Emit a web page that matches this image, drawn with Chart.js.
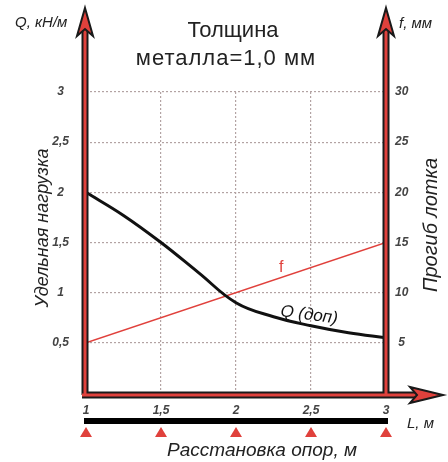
<!DOCTYPE html>
<html>
<head>
<meta charset="utf-8">
<script src="https://cdn.jsdelivr.net/npm/chart.js@4.4.0/dist/chart.umd.min.js"></script>
<style>
  html, body { margin: 0; padding: 0; background: #fff; }
</style>
</head>
<body>
<canvas id="chart" width="448" height="462"></canvas>
<script>
// data
var qLength = [1, 1.25, 1.5, 1.75, 2, 2.25, 2.5, 2.75, 3];
var qLoad = [2.0, 1.77, 1.5, 1.2, 0.9, 0.76, 0.67, 0.6, 0.55];
var fLength = [1, 3];
var fDeflection = [5, 15];

var lengthTicks = [1, 1.5, 2, 2.5, 3];
var loadTicks = [0.5, 1, 1.5, 2, 2.5, 3];
var deflectionTicks = [5, 10, 15, 20, 25, 30];

var RED = '#e0413c';
var GRID = '#b3a3a3';
var tickFont = { family: "'Liberation Sans Narrow', 'Liberation Sans', sans-serif", size: 12, style: 'italic', weight: 'bold' };

function comma(v) {
  return String(v).replace('.', ',');
}

function setTicks(list) {
  return function(scale) {
    scale.ticks = list.map(function(v) { return { value: v }; });
  };
}

function text(ctx, str, x, y, font, color, align, angle, spacing) {
  ctx.save();
  ctx.translate(x, y);
  if (angle) ctx.rotate(angle);
  ctx.font = font;
  ctx.fillStyle = color;
  ctx.textAlign = align || 'left';
  ctx.textBaseline = 'alphabetic';
  if (spacing) ctx.letterSpacing = spacing + 'px';
  ctx.fillText(str, 0, 0);
  ctx.restore();
}

function arrowHead(ctx, pts) {
  ctx.beginPath();
  ctx.moveTo(pts[0][0], pts[0][1]);
  for (var i = 1; i < pts.length; i++) ctx.lineTo(pts[i][0], pts[i][1]);
  ctx.closePath();
  ctx.fillStyle = RED;
  ctx.fill();
  ctx.lineWidth = 2;
  ctx.strokeStyle = '#1a1a1a';
  ctx.lineJoin = 'miter';
  ctx.stroke();
}

var decor = {
  id: 'decor',
  afterDraw: function(chart) {
    var ctx = chart.ctx;
    var area = chart.chartArea;
    var xs = chart.scales.x;
    var L = area.left - 1, R = area.right, B = area.bottom + 2, T = 30;

    // frame lines: black outline, red core
    var lines = [[L, B, L, T], [R, B, R, T], [L - 3, B, 416, B]];
    ctx.save();
    ctx.lineCap = 'butt';
    [['#1a1a1a', 7], [RED, 3]].forEach(function(s) {
      ctx.strokeStyle = s[0];
      ctx.lineWidth = s[1];
      lines.forEach(function(l) {
        ctx.beginPath();
        ctx.moveTo(l[0], l[1]);
        ctx.lineTo(l[2], l[3]);
        ctx.stroke();
      });
    });
    arrowHead(ctx, [[L, 8], [L + 8, 36], [L, 29], [L - 8, 36]]);
    arrowHead(ctx, [[R, 8], [R + 8, 36], [R, 29], [R - 8, 36]]);
    arrowHead(ctx, [[443, B], [410, B + 8], [417, B], [410, B - 8]]);

    // supports bar with triangles
    ctx.fillStyle = '#000';
    ctx.fillRect(L - 1, 418, R - L + 3, 6);
    ctx.fillStyle = RED;
    lengthTicks.forEach(function(v) {
      var x = xs.getPixelForValue(v);
      ctx.beginPath();
      ctx.moveTo(x, 427);
      ctx.lineTo(x + 6, 437);
      ctx.lineTo(x - 6, 437);
      ctx.closePath();
      ctx.fill();
    });
    ctx.restore();

    var sans = "'Liberation Sans', Arial, sans-serif";
    text(ctx, 'Толщина', 233, 37, '22px ' + sans, '#222', 'center');
    text(ctx, 'металла=1,0 мм', 226, 65, '22px ' + sans, '#222', 'center', 0, 1);
    text(ctx, 'Q, кН/м', 15, 27, 'italic 15px ' + sans, '#222', 'left');
    text(ctx, 'f, мм', 399, 28, 'italic 15px ' + sans, '#222', 'left');
    text(ctx, 'L, м', 407, 428, 'italic 15px ' + sans, '#222', 'left');
    text(ctx, 'Удельная нагрузка', 48, 228, 'italic 18px ' + sans, '#222', 'center', -Math.PI / 2);
    text(ctx, 'Прогиб лотка', 437, 225, 'italic 20px ' + sans, '#222', 'center', -Math.PI / 2);
    text(ctx, 'Расстановка опор, м', 262, 456, 'italic 19px ' + sans, '#222', 'center');
    text(ctx, 'f', 279, 272, '16px ' + sans, RED, 'left');
    text(ctx, 'Q (доп)', 280, 316, 'italic 17px ' + sans, '#111', 'left', 0.13);
  }
};

var ctx = document.getElementById('chart');

new Chart(ctx, {
  type: 'line',
  data: {
    datasets: [{
      label: 'Q (доп)',
      data: qLength.map(function(x, i) { return { x: x, y: qLoad[i] }; }),
      borderColor: '#111',
      borderWidth: 3,
      pointRadius: 0,
      tension: 0.4,
      yAxisID: 'y'
    }, {
      label: 'f',
      data: fLength.map(function(x, i) { return { x: x, y: fDeflection[i] }; }),
      borderColor: RED,
      borderWidth: 1.5,
      pointRadius: 0,
      yAxisID: 'y2'
    }]
  },
  options: {
    responsive: false,
    animation: false,
    layout: { padding: { top: 92, left: 0, right: 0, bottom: 0 } },
    plugins: {
      legend: { display: false },
      tooltip: { enabled: false }
    },
    scales: {
      x: {
        type: 'linear',
        min: 1,
        max: 3,
        afterBuildTicks: setTicks(lengthTicks),
        afterFit: function(scale) { scale.height = 69; },
        border: { display: false, dash: [2, 2] },
        grid: {
          drawTicks: false,
          color: function(c) { return (c.tick && (c.tick.value === 1 || c.tick.value === 3)) ? 'rgba(0,0,0,0)' : GRID; },
          lineWidth: 1.2
        },
        ticks: {
          padding: 10,
          color: '#444',
          font: tickFont,
          maxRotation: 0,
          callback: function(v) { return comma(v); }
        }
      },
      y: {
        position: 'left',
        min: 0,
        max: 3,
        afterBuildTicks: setTicks(loadTicks),
        afterFit: function(scale) { scale.width = 86; },
        border: { display: false, dash: [2, 2] },
        grid: { drawTicks: false, color: GRID, lineWidth: 1.2 },
        ticks: {
          padding: 17,
          crossAlign: 'center',
          color: '#444',
          font: tickFont,
          callback: function(v) { return comma(v); }
        }
      },
      y2: {
        position: 'right',
        min: 0,
        max: 30,
        afterBuildTicks: setTicks(deflectionTicks),
        afterFit: function(scale) { scale.width = 62; },
        border: { display: false },
        grid: { display: false, drawTicks: false },
        ticks: {
          padding: 9,
          crossAlign: 'center',
          color: '#444',
          font: tickFont
        }
      }
    }
  },
  plugins: [decor]
});
</script>
</body>
</html>
